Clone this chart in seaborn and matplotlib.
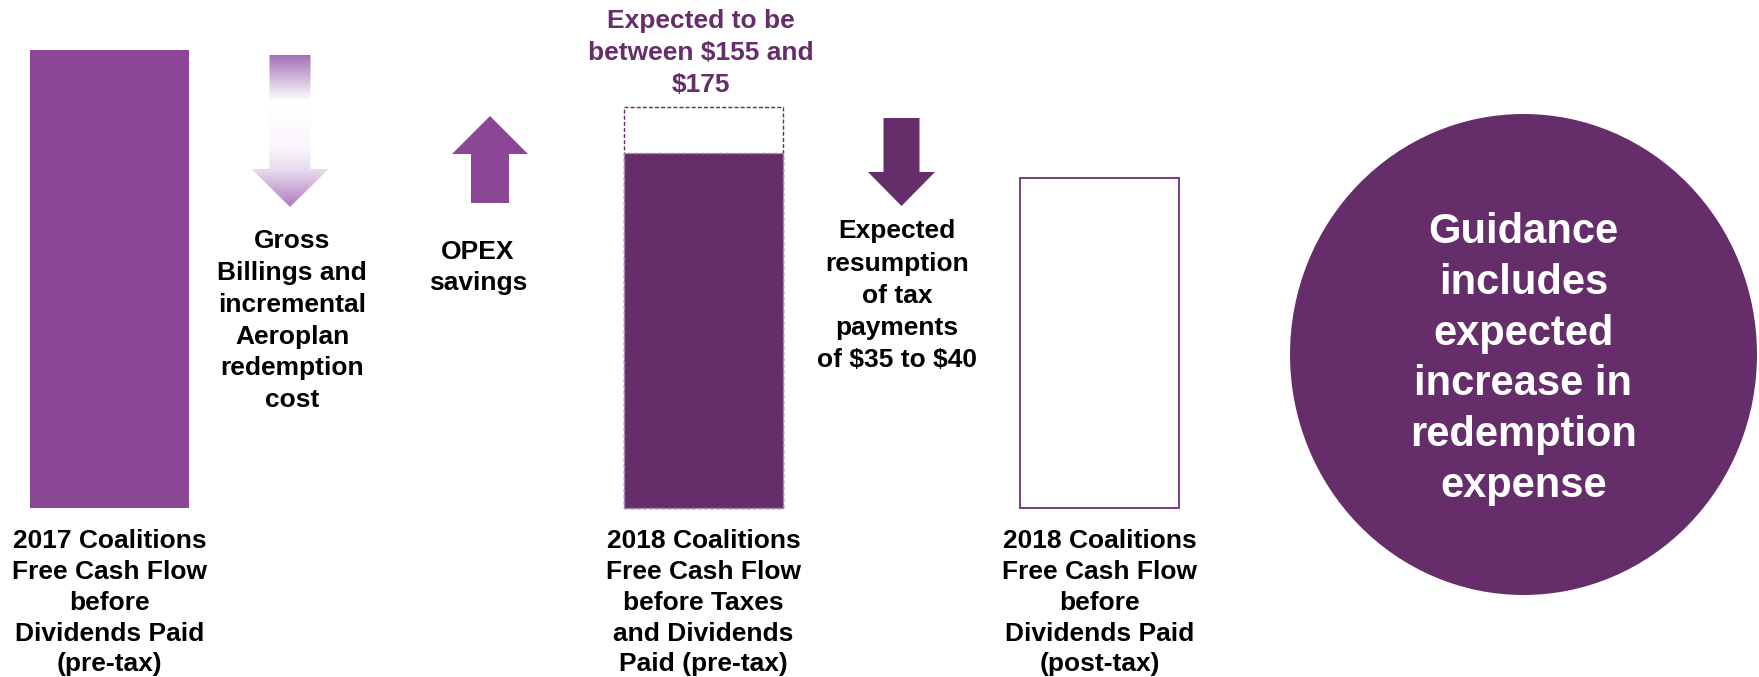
import numpy as np
import pandas as pd
import matplotlib
matplotlib.use('Agg')
import matplotlib.pyplot as plt
import seaborn as sns
from matplotlib.patches import Polygon, Ellipse
from matplotlib.colors import LinearSegmentedColormap

sns.set_theme(style='white')
plt.rcParams['font.family'] = ['Liberation Sans', 'DejaVu Sans']

# 数据
steps = ['fcf_2017', 'gross_billings', 'opex', 'fcf_2018_pre', 'tax', 'fcf_2018_post']
bar_steps = ['fcf_2017', 'fcf_2018_pre', 'fcf_2018_post']
bar_values = [200, 155, 144]
guidance_high = 175   # 2018 区间上限

bar_labels = [
    ['2017 Coalitions', 'Free Cash Flow', 'before', 'Dividends Paid', '(pre-tax)'],
    ['2018 Coalitions', 'Free Cash Flow', 'before Taxes', 'and Dividends', 'Paid (pre-tax)'],
    ['2018 Coalitions', 'Free Cash Flow', 'before', 'Dividends Paid', '(post-tax)'],
]
change_steps = ['gross_billings', 'opex', 'tax']
change_labels = [
    ['Gross', 'Billings and', 'incremental', 'Aeroplan', 'redemption', 'cost'],
    ['OPEX', 'savings'],
    ['Expected', 'resumption', 'of tax', 'payments', 'of $35 to $40'],
]
range_label = ['Expected to be', 'between $155 and', '$175']
circle_label = ['Guidance', 'includes', 'expected', 'increase in', 'redemption', 'expense']

# 颜色
purple = '#8B4796'
purple_dark = '#662D6B'

# 像素 -> 数值 的换算 (底线在 508px, 每个单位 2.29px, 每个位置 198px)
base_px = 508
px_per_unit = 2.29
slot_px = 198
first_slot_px = 109.5


def py(p):
    return (base_px - p) / px_per_unit


def px(p):
    return (p - first_slot_px) / slot_px


fig = plt.figure(figsize=(17.59, 6.77), dpi=100)
ax = fig.add_axes([0, 0, 1, 1])

# 2018 区间 (虚线框)
sns.barplot(x=['fcf_2018_pre'], y=[guidance_high], order=steps, color='white', saturation=1,
            width=0.8, edgecolor=purple_dark, linewidth=1.0, linestyle=(0, (2.9, 1.5)), ax=ax)

bar_faces = [purple, purple_dark, 'white']
bar_edges = [purple, '#A88AAE', '#7A3D86']
bar_ls = ['-', (0, (2.9, 1.5)), '-']
bar_lw = [0, 1.0, 1.4]
for step, val, fc, ec, ls, lw in zip(bar_steps, bar_values, bar_faces, bar_edges, bar_ls, bar_lw):
    sns.barplot(x=[step], y=[val], order=steps, color=fc, saturation=1, width=0.8,
                edgecolor=ec, linewidth=lw, linestyle=ls, ax=ax)

# 箭头 (中心偏移, 杆半宽, 头半宽, 尾, 头底, 尖) 单位: 像素
arrow_layout = [
    dict(dx=-17.5, shaft=20.5, head=38.5, tail=55, base=169, tip=207),
    dict(dx=-15.5, shaft=19, head=38, tail=203, base=154, tip=116),
    dict(dx=0, shaft=18, head=33.5, tail=118, base=172, tip=206),
]


def arrow_points(xc, a):
    s = a['shaft'] / slot_px
    h = a['head'] / slot_px
    return [(xc - s, py(a['tail'])), (xc + s, py(a['tail'])), (xc + s, py(a['base'])),
            (xc + h, py(a['base'])), (xc, py(a['tip'])), (xc - h, py(a['base'])),
            (xc - s, py(a['base']))]


fade = LinearSegmentedColormap.from_list('fade', [(0, '#A471B5'), (0.3, '#FFFFFF'), (0.6, '#FBF7FC'),
                                                  (0.76, '#E8DAEE'), (1.0, '#AE7CBF')])
for i, (step, a) in enumerate(zip(change_steps, arrow_layout)):
    xc = steps.index(step) + a['dx'] / slot_px
    pts = arrow_points(xc, a)
    if i == 0:
        poly = Polygon(pts, closed=True, facecolor='none', edgecolor='none')
        ax.add_patch(poly)
        grad = np.linspace(0, 1, 256).reshape(-1, 1)
        h = a['head'] / slot_px
        im = ax.imshow(grad, cmap=fade, extent=[xc - h, xc + h, py(a['tip']), py(a['tail'])],
                       origin='upper', aspect='auto', zorder=3)
        im.set_clip_path(poly)
    else:
        color = purple if i == 1 else purple_dark
        ax.add_patch(Polygon(pts, closed=True, facecolor=color, edgecolor='none', zorder=3))

# 圆
ax.add_patch(Ellipse((px(1523.5), py(354.5)), width=467 / slot_px, height=481 / px_per_unit,
                     facecolor=purple_dark, edgecolor='none', zorder=2))


def draw_lines(lines, x, baseline_px, step_px, color='black', size=19):
    for k, line in enumerate(lines):
        ax.text(x, py(baseline_px + k * step_px), line, ha='center', va='baseline',
                fontsize=size, fontweight='bold', color=color, zorder=5, parse_math=False)


for step, lines in zip(bar_steps, bar_labels):
    draw_lines(lines, steps.index(step), 548.5, 30.7)

draw_lines(change_labels[0], px(292), 248.5, 31.7)
draw_lines(change_labels[1], px(478), 259.5, 30.5)
draw_lines(change_labels[2], px(897), 238.5, 32.1)
draw_lines(range_label, steps.index('fcf_2018_pre') - 0.015, 28.3, 31.7, color=purple_dark)
draw_lines(circle_label, px(1523.5), 243, 50.8, color='white', size=30)

ax.set_xlim(px(0), px(1759))
ax.set_ylim(py(677), py(0))
ax.set_axis_off()

fig.savefig('out.png', dpi=100, facecolor='white')
